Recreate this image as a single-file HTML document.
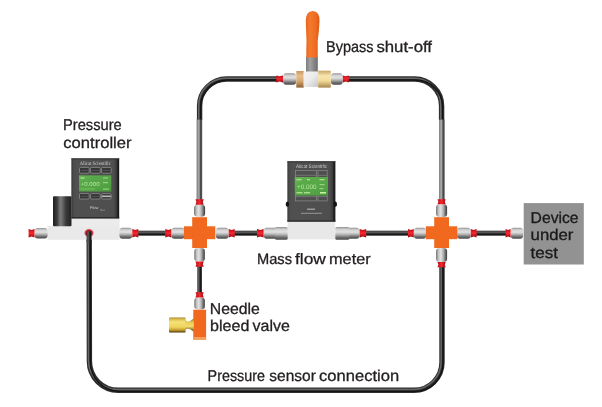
<!DOCTYPE html>
<html><head><meta charset="utf-8"><style>
html,body{margin:0;padding:0;background:#fff;}
svg{display:block;filter:blur(0.3px);}
text{font-family:"Liberation Sans",sans-serif;text-rendering:geometricPrecision;}
</style></head><body>
<svg width="602" height="407" viewBox="0 0 602 407">
<rect width="602" height="407" fill="#fff"/>
<defs>
<linearGradient id="gh" x1="0" y1="0" x2="0" y2="1">
 <stop offset="0" stop-color="#8c8c8c"/><stop offset="0.18" stop-color="#d0d0d0"/><stop offset="0.4" stop-color="#e2e2e2"/><stop offset="0.6" stop-color="#b4b4b4"/><stop offset="0.82" stop-color="#6e6e6e"/><stop offset="1" stop-color="#4a4a4a"/></linearGradient>
<linearGradient id="gv" x1="0" y1="0" x2="1" y2="0">
 <stop offset="0" stop-color="#6a6a6a"/><stop offset="0.2" stop-color="#c0c0c0"/><stop offset="0.42" stop-color="#e2e2e2"/><stop offset="0.65" stop-color="#b4b4b4"/><stop offset="0.85" stop-color="#6a6a6a"/><stop offset="1" stop-color="#3a3a3a"/></linearGradient>
<linearGradient id="rh" x1="0" y1="0" x2="0" y2="1">
 <stop offset="0" stop-color="#a80c14"/><stop offset="0.3" stop-color="#e41a22"/><stop offset="0.5" stop-color="#f42a30"/><stop offset="0.75" stop-color="#d0141c"/><stop offset="1" stop-color="#900810"/></linearGradient>
<linearGradient id="rv" x1="0" y1="0" x2="1" y2="0">
 <stop offset="0" stop-color="#a80c14"/><stop offset="0.3" stop-color="#e41a22"/><stop offset="0.5" stop-color="#f42a30"/><stop offset="0.75" stop-color="#d0141c"/><stop offset="1" stop-color="#900810"/></linearGradient>
<linearGradient id="th" x1="0" y1="0" x2="0" y2="1">
 <stop offset="0" stop-color="#2e2e2e"/><stop offset="0.3" stop-color="#636363"/><stop offset="0.5" stop-color="#3c3c3c"/><stop offset="0.72" stop-color="#141414"/><stop offset="1" stop-color="#2e2e2e"/></linearGradient>
<linearGradient id="tv" x1="0" y1="0" x2="1" y2="0">
 <stop offset="0" stop-color="#2e2e2e"/><stop offset="0.3" stop-color="#636363"/><stop offset="0.5" stop-color="#3c3c3c"/><stop offset="0.72" stop-color="#141414"/><stop offset="1" stop-color="#2e2e2e"/></linearGradient>
<linearGradient id="tg" x1="0" y1="0" x2="1" y2="0">
 <stop offset="0" stop-color="#6e6e6e"/><stop offset="0.25" stop-color="#9c9c9c"/><stop offset="0.45" stop-color="#a6a6a6"/><stop offset="0.72" stop-color="#424242"/><stop offset="1" stop-color="#5e5e5e"/></linearGradient>
<linearGradient id="bodyg" x1="0" y1="0" x2="1" y2="0">
 <stop offset="0" stop-color="#262626"/><stop offset="0.03" stop-color="#4a4a4a"/><stop offset="0.1" stop-color="#505050"/><stop offset="0.88" stop-color="#4e4e4e"/><stop offset="0.94" stop-color="#3c3c3c"/><stop offset="0.97" stop-color="#1c1c1c"/><stop offset="1" stop-color="#1c1c1c"/></linearGradient>
<linearGradient id="handle" x1="0" y1="0" x2="1" y2="0">
 <stop offset="0" stop-color="#e8661e"/><stop offset="0.3" stop-color="#f37a2e"/><stop offset="0.7" stop-color="#f06c22"/><stop offset="1" stop-color="#d85a14"/></linearGradient>
<radialGradient id="port" cx="0.5" cy="0.55" r="0.5">
 <stop offset="0" stop-color="#6a0810"/><stop offset="0.55" stop-color="#b01420"/><stop offset="0.8" stop-color="#d03a44" stop-opacity="0.8"/><stop offset="1" stop-color="#f0a0a0" stop-opacity="0"/></radialGradient>
<linearGradient id="stem" x1="0" y1="0" x2="1" y2="0">
 <stop offset="0" stop-color="#7c7c7c"/><stop offset="0.35" stop-color="#a2a2a2"/><stop offset="0.6" stop-color="#8c8c8c"/><stop offset="1" stop-color="#6e6e6e"/></linearGradient>
<linearGradient id="wbody" x1="0" y1="0" x2="1" y2="1">
 <stop offset="0" stop-color="#f4f4f4"/><stop offset="0.5" stop-color="#ebebeb"/><stop offset="0.75" stop-color="#d8d8d8"/><stop offset="1" stop-color="#c4c4c4"/></linearGradient>
<linearGradient id="sol" x1="0" y1="0" x2="1" y2="0">
 <stop offset="0" stop-color="#1c1c1c"/><stop offset="0.2" stop-color="#383838"/><stop offset="0.4" stop-color="#7a7a7a"/><stop offset="0.5" stop-color="#6a6a6a"/><stop offset="0.7" stop-color="#3a3a3a"/><stop offset="1" stop-color="#222"/></linearGradient>
<linearGradient id="lcd" x1="0" y1="0" x2="1" y2="1">
 <stop offset="0" stop-color="#8fd070" stop-opacity="0.35"/><stop offset="0.5" stop-color="#4f9f42" stop-opacity="0"/><stop offset="1" stop-color="#2f7a2a" stop-opacity="0.4"/></linearGradient>
<linearGradient id="gold" x1="0" y1="0" x2="0" y2="1">
 <stop offset="0" stop-color="#9c7c24"/><stop offset="0.1" stop-color="#d8b848"/><stop offset="0.3" stop-color="#f6e27a"/><stop offset="0.65" stop-color="#eed25a"/><stop offset="0.85" stop-color="#c09a2c"/><stop offset="1" stop-color="#4a3208"/></linearGradient>
<linearGradient id="gold2" x1="0" y1="0" x2="0" y2="1">
 <stop offset="0" stop-color="#8a6a18"/><stop offset="0.3" stop-color="#e8cc58"/><stop offset="0.6" stop-color="#f4dc6c"/><stop offset="1" stop-color="#5a4010"/></linearGradient>
<linearGradient id="brassL" x1="0" y1="0" x2="0" y2="1">
 <stop offset="0" stop-color="#c8985c"/><stop offset="0.3" stop-color="#e6c08c"/><stop offset="0.6" stop-color="#d8a870"/><stop offset="1" stop-color="#8a5e30"/></linearGradient>
<linearGradient id="brassR" x1="0" y1="0" x2="0" y2="1">
 <stop offset="0" stop-color="#c8a466"/><stop offset="0.3" stop-color="#f6e6b0"/><stop offset="0.6" stop-color="#f2dc98"/><stop offset="1" stop-color="#a88450"/></linearGradient>
</defs>
<path d="M199.6 120 L199.6 106 A27 27 0 0 1 226.6 79 L277 79 M348 79 L414.6 79 A27 27 0 0 1 441.6 106 L441.6 120" fill="none" stroke="#2e2e2e" stroke-width="5.4"/>
<path d="M199.6 120 L199.6 106 A27 27 0 0 1 226.6 79 L277 79 M348 79 L414.6 79 A27 27 0 0 1 441.6 106 L441.6 120" fill="none" stroke="#676767" stroke-width="1.5" transform="translate(-0.85,-0.85)"/>
<path d="M199.6 120 L199.6 106 A27 27 0 0 1 226.6 79 L277 79 M348 79 L414.6 79 A27 27 0 0 1 441.6 106 L441.6 120" fill="none" stroke="#141414" stroke-width="1.4" transform="translate(1.05,1.05)"/>
<rect x="196.6" y="119.5" width="5.6" height="80.5" fill="url(#tg)"/>
<rect x="439.1" y="119.5" width="5.6" height="80.5" fill="url(#tg)"/>
<path d="M89.2 236 L89.4 361.3 A29 29 0 0 0 118.4 390.3 L414.0 390.3 A28 28 0 0 0 442.0 362.3 L442.0 266" fill="none" stroke="#2e2e2e" stroke-width="5.4"/>
<path d="M89.2 236 L89.4 361.3 A29 29 0 0 0 118.4 390.3 L414.0 390.3 A28 28 0 0 0 442.0 362.3 L442.0 266" fill="none" stroke="#676767" stroke-width="1.5" transform="translate(-0.85,-0.85)"/>
<path d="M89.2 236 L89.4 361.3 A29 29 0 0 0 118.4 390.3 L414.0 390.3 A28 28 0 0 0 442.0 362.3 L442.0 266" fill="none" stroke="#141414" stroke-width="1.4" transform="translate(1.05,1.05)"/>
<rect x="138" y="230.7" width="28" height="5.0" fill="url(#th)"/>
<rect x="233" y="230.7" width="25" height="5.0" fill="url(#th)"/>
<rect x="365" y="230.7" width="44" height="5.0" fill="url(#th)"/>
<rect x="476" y="230.7" width="30" height="5.0" fill="url(#th)"/>
<rect x="197.29999999999998" y="266" width="4.6" height="28" fill="url(#tv)"/>
<rect x="47.5" y="225.8" width="72" height="14" fill="#e9e9e9"/>
<rect x="71.5" y="216" width="48" height="11" fill="#ebebeb"/>
<rect x="53" y="196.3" width="18.5" height="30" rx="1" fill="url(#sol)"/>
<rect x="71.4" y="158.4" width="47.8" height="60" fill="url(#bodyg)"/>
<rect x="71.4" y="158.4" width="47.8" height="1" fill="#333"/>
<rect x="71.4" y="217.2" width="47.8" height="1.2" fill="#262626"/>
<text x="95.3" y="164.6" font-size="5.4" fill="#d2d2d2" style="font-family:Liberation Serif" text-anchor="middle" textLength="31" lengthAdjust="spacingAndGlyphs">Alicat Scientific</text>
<rect x="79.5" y="167.4" width="9.6" height="5.8" rx="1" fill="#363636" stroke="#9a9a9a" stroke-width="0.7"/>
<rect x="80.7" y="169.9" width="7.2" height="0.8" fill="#5a5a5a"/>
<rect x="79.5" y="193.6" width="9.6" height="5.4" rx="1" fill="#363636" stroke="#9a9a9a" stroke-width="0.7"/>
<rect x="80.7" y="195.89999999999998" width="7.2" height="0.8" fill="#5a5a5a"/>
<rect x="90.6" y="167.4" width="9.6" height="5.8" rx="1" fill="#363636" stroke="#9a9a9a" stroke-width="0.7"/>
<rect x="91.8" y="169.9" width="7.2" height="0.8" fill="#5a5a5a"/>
<rect x="90.6" y="193.6" width="9.6" height="5.4" rx="1" fill="#363636" stroke="#9a9a9a" stroke-width="0.7"/>
<rect x="91.8" y="195.89999999999998" width="7.2" height="0.8" fill="#5a5a5a"/>
<rect x="101.6" y="167.4" width="9.6" height="5.8" rx="1" fill="#363636" stroke="#9a9a9a" stroke-width="0.7"/>
<rect x="102.8" y="169.9" width="7.2" height="0.8" fill="#5a5a5a"/>
<rect x="101.6" y="193.6" width="9.6" height="5.4" rx="1" fill="#363636" stroke="#9a9a9a" stroke-width="0.7"/>
<rect x="102.8" y="195.89999999999998" width="7.2" height="0.8" fill="#5a5a5a"/>
<rect x="101.9" y="195.5" width="9" height="1.6" fill="#bbb"/>
<rect x="79" y="175.4" width="32.3" height="16.1" fill="#56a647"/>
<rect x="79" y="175.4" width="32.3" height="16.1" fill="url(#lcd)"/>
<text x="80.6" y="186" font-size="5.6" fill="#b8e6a0" textLength="19" lengthAdjust="spacingAndGlyphs">+0.000</text>
<rect x="80.5" y="177.3" width="4" height="1.4" fill="#a8dc90"/>
<rect x="103" y="177.3" width="5" height="1.2" fill="#98d080"/>
<rect x="103" y="182" width="5" height="1.2" fill="#98d080"/>
<rect x="103" y="188.5" width="6" height="1.2" fill="#98d080"/>
<rect x="80.5" y="188.5" width="14" height="1" fill="#78c060"/>
<text x="90" y="209" font-size="4" fill="#d0d0d0">Flow</text>
<text x="100" y="211" font-size="3" fill="#aaaaaa">Set</text>
<ellipse cx="89" cy="232.6" rx="5.2" ry="4.6" fill="url(#port)"/>
<rect x="86.6" y="231.2" width="5" height="12" rx="2" fill="url(#tv)"/>
<rect x="287.7" y="219" width="47.5" height="20.4" fill="#e8e8e8"/>
<rect x="287.4" y="161.3" width="48" height="60.3" fill="url(#bodyg)"/>
<rect x="287.4" y="161.3" width="48" height="1" fill="#333"/>
<rect x="287.4" y="220.4" width="48" height="1.2" fill="#262626"/>
<text x="311.5" y="167.6" font-size="5" fill="#cacaca" text-anchor="middle" textLength="31" lengthAdjust="spacingAndGlyphs">Alicat Scientific</text>
<rect x="295.5" y="170.4" width="21.0" height="30.5" fill="none" stroke="#8c8c8c" stroke-width="0.7"/>
<line x1="295.5" y1="175.3" x2="316.5" y2="175.3" stroke="#8c8c8c" stroke-width="0.6"/>
<line x1="295.5" y1="196.6" x2="316.5" y2="196.6" stroke="#8c8c8c" stroke-width="0.6"/>
<rect x="318" y="170.4" width="9.199999999999989" height="30.5" fill="none" stroke="#8c8c8c" stroke-width="0.7"/>
<line x1="318" y1="175.3" x2="327.2" y2="175.3" stroke="#8c8c8c" stroke-width="0.6"/>
<line x1="318" y1="196.6" x2="327.2" y2="196.6" stroke="#8c8c8c" stroke-width="0.6"/>
<rect x="294.8" y="177" width="33.2" height="18.5" fill="#58a848"/>
<rect x="294.8" y="177" width="33.2" height="18.5" fill="url(#lcd)"/>
<text x="297" y="189.2" font-size="6.6" fill="#b6e49c" textLength="19.5" lengthAdjust="spacingAndGlyphs">+0.000</text>
<rect x="296.5" y="179" width="5" height="1.3" fill="#a8dc90"/>
<rect x="307" y="179" width="3" height="1.3" fill="#a8dc90"/>
<rect x="319.5" y="179" width="5" height="1.3" fill="#a8dc90"/>
<rect x="319.5" y="184" width="5" height="1.2" fill="#98d080"/>
<rect x="319.5" y="188" width="4" height="1.2" fill="#98d080"/>
<rect x="296.5" y="192" width="6" height="1.4" fill="#a8dc90"/>
<rect x="304" y="192" width="6" height="1.4" fill="#a8dc90"/>
<rect x="320" y="192" width="6" height="1.6" fill="#c8f0a0"/>
<ellipse cx="287.4" cy="204.2" rx="1.6" ry="2.6" fill="#111"/>
<ellipse cx="335.4" cy="204.2" rx="1.6" ry="2.6" fill="#111"/>
<rect x="307" y="208.5" width="8" height="1.5" fill="#9a9a9a"/>
<rect x="301" y="212.8" width="21" height="0.9" fill="#a0a0a0"/>
<rect x="34.5" y="227.95" width="13.2" height="10.5" rx="3" ry="4" fill="url(#gh)"/>
<path d="M28.6 229.0 L31.55 229.9 L34.5 229.0 L34.5 237.39999999999998 L31.55 236.49999999999997 L28.6 237.39999999999998 Z" fill="url(#rh)"/>
<rect x="119.3" y="227.7" width="13" height="11" rx="3" ry="4" fill="url(#gh)"/>
<path d="M132.3 229.0 L135.3 229.9 L138.3 229.0 L138.3 237.39999999999998 L135.3 236.49999999999997 L132.3 237.39999999999998 Z" fill="url(#rh)"/>
<rect x="171.3" y="227.7" width="13.5" height="11" rx="3" ry="4" fill="url(#gh)"/>
<path d="M165.3 229.0 L168.3 229.9 L171.3 229.0 L171.3 237.39999999999998 L168.3 236.49999999999997 L165.3 237.39999999999998 Z" fill="url(#rh)"/>
<rect x="215.7" y="227.7" width="13" height="11" rx="3" ry="4" fill="url(#gh)"/>
<path d="M228.7 229.0 L231.7 229.9 L234.7 229.0 L234.7 237.39999999999998 L231.7 236.49999999999997 L228.7 237.39999999999998 Z" fill="url(#rh)"/>
<rect x="263.6" y="227.7" width="18" height="11" rx="3" ry="4" fill="url(#gh)"/>
<rect x="275" y="226.89999999999998" width="12.7" height="12.8" rx="1.5" fill="url(#gh)"/>
<path d="M257 229.0 L260.3 229.9 L263.6 229.0 L263.6 237.39999999999998 L260.3 236.49999999999997 L257 237.39999999999998 Z" fill="url(#rh)"/>
<rect x="341" y="227.7" width="18.6" height="11" rx="3" ry="4" fill="url(#gh)"/>
<rect x="335.3" y="226.89999999999998" width="14" height="12.8" rx="1.5" fill="url(#gh)"/>
<path d="M359.6 229.0 L362.90000000000003 229.9 L366.20000000000005 229.0 L366.20000000000005 237.39999999999998 L362.90000000000003 236.49999999999997 L359.6 237.39999999999998 Z" fill="url(#rh)"/>
<rect x="413.8" y="227.7" width="12.5" height="11" rx="3" ry="4" fill="url(#gh)"/>
<path d="M408 229.0 L410.9 229.9 L413.8 229.0 L413.8 237.39999999999998 L410.9 236.49999999999997 L408 237.39999999999998 Z" fill="url(#rh)"/>
<rect x="456.8" y="227.7" width="14" height="11" rx="3" ry="4" fill="url(#gh)"/>
<path d="M470.8 229.0 L473.70000000000005 229.9 L476.6 229.0 L476.6 237.39999999999998 L473.70000000000005 236.49999999999997 L470.8 237.39999999999998 Z" fill="url(#rh)"/>
<rect x="510.6" y="227.7" width="12.6" height="11" rx="3" ry="4" fill="url(#gh)"/>
<path d="M505.6 229.0 L508.1 229.9 L510.6 229.0 L510.6 237.39999999999998 L508.1 236.49999999999997 L505.6 237.39999999999998 Z" fill="url(#rh)"/>
<rect x="194.1" y="204.79999999999998" width="11" height="12" rx="4" ry="3" fill="url(#gv)"/>
<path d="M195.5 199.2 L196.4 202.0 L195.5 204.79999999999998 L203.7 204.79999999999998 L202.79999999999998 202.0 L203.7 199.2 Z" fill="url(#rv)"/>
<rect x="194.35" y="248" width="10.5" height="13.5" rx="4" ry="3" fill="url(#gv)"/>
<path d="M195.5 261.5 L196.4 264.15 L195.5 266.8 L203.7 266.8 L202.79999999999998 264.15 L203.7 261.5 Z" fill="url(#rv)"/>
<rect x="194.35" y="297.5" width="10.5" height="12" rx="4" ry="3" fill="url(#gv)"/>
<path d="M195.5 292.2 L196.4 294.85 L195.5 297.5 L203.7 297.5 L202.79999999999998 294.85 L203.7 292.2 Z" fill="url(#rv)"/>
<rect x="436.1" y="204.2" width="11" height="12.8" rx="4" ry="3" fill="url(#gv)"/>
<path d="M437.5 199.2 L438.4 201.7 L437.5 204.2 L445.70000000000005 204.2 L444.80000000000007 201.7 L445.70000000000005 199.2 Z" fill="url(#rv)"/>
<rect x="436.1" y="248" width="11" height="14" rx="4" ry="3" fill="url(#gv)"/>
<path d="M437.5 262 L438.4 264.65 L437.5 267.3 L445.70000000000005 267.3 L444.80000000000007 264.65 L445.70000000000005 262 Z" fill="url(#rv)"/>
<rect x="183.9" y="226.29999999999998" width="31.4" height="12.9" fill="#f0691f"/>
<rect x="192.2" y="217.2" width="14.8" height="30.8" fill="#f0691f"/>
<rect x="425.90000000000003" y="226.29999999999998" width="31.4" height="12.9" fill="#f0691f"/>
<rect x="434.20000000000005" y="217.2" width="14.8" height="30.8" fill="#f0691f"/>
<rect x="193.3" y="309.7" width="12.8" height="30" fill="#f0691f"/>
<rect x="193.3" y="337" width="12.8" height="3" fill="#f3a060"/>
<rect x="169" y="317.4" width="16.6" height="15.1" rx="0.8" fill="url(#gold)"/>
<path d="M185.2 320.3 C187.5 322.6 190 321.4 193.6 318.4 L193.6 331.6 C190 328.8 187.5 327.6 185.2 329.7 Z" fill="url(#gold2)"/>
<rect x="306" y="56.8" width="11.8" height="15" fill="url(#stem)"/>
<path d="M306.3 57.5 L306.3 50 Q306.9 42 306.1 31 L305.8 21 Q305.9 11 312.6 11 Q319.7 11 319.5 21 Q319.1 31 317.7 41 L317.8 57.5 Z" fill="url(#handle)"/>
<rect x="283.0" y="73.15" width="13.3" height="11.5" rx="3" ry="4" fill="url(#gh)"/>
<path d="M276.3 75.4 L279.65 76.30000000000001 L283.0 75.4 L283.0 82.4 L279.65 81.5 L276.3 82.4 Z" fill="url(#rh)"/>
<rect x="330.8" y="73.15" width="12" height="11.5" rx="3" ry="4" fill="url(#gh)"/>
<path d="M342.8 75.4 L345.8 76.30000000000001 L348.8 75.4 L348.8 82.4 L345.8 81.5 L342.8 82.4 Z" fill="url(#rh)"/>
<rect x="296.3" y="71" width="7.5" height="16.6" fill="url(#brassL)"/>
<rect x="303.6" y="71.6" width="14.8" height="15.3" fill="url(#wbody)"/>
<rect x="318.2" y="70.7" width="12.6" height="16.9" fill="url(#brassR)"/>
<rect x="523.7" y="203.1" width="60.1" height="61.4" fill="#929292"/>
<text x="326" y="52.3" font-size="15.6" fill="#231f20" stroke="#231f20" stroke-width="0.3" textLength="47.5" lengthAdjust="spacingAndGlyphs">Bypass</text>
<text x="376.4" y="52.3" font-size="15.6" fill="#231f20" stroke="#231f20" stroke-width="0.3" textLength="55.60000000000002" lengthAdjust="spacingAndGlyphs">shut-off</text>
<text x="63.0" y="129.7" font-size="15.6" fill="#231f20" stroke="#231f20" stroke-width="0.3" textLength="58.8" lengthAdjust="spacingAndGlyphs">Pressure</text>
<text x="63.3" y="147.8" font-size="15.6" fill="#231f20" stroke="#231f20" stroke-width="0.3" textLength="68.2" lengthAdjust="spacingAndGlyphs">controller</text>
<text x="257" y="264.1" font-size="15.1" fill="#231f20" stroke="#231f20" stroke-width="0.3" textLength="35.0" lengthAdjust="spacingAndGlyphs">Mass</text>
<text x="295" y="264.1" font-size="15.1" fill="#231f20" stroke="#231f20" stroke-width="0.3" textLength="30.80000000000001" lengthAdjust="spacingAndGlyphs">flow</text>
<text x="329" y="264.1" font-size="15.1" fill="#231f20" stroke="#231f20" stroke-width="0.3" textLength="41.69999999999999" lengthAdjust="spacingAndGlyphs">meter</text>
<text x="209.8" y="313.9" font-size="15.6" fill="#231f20" stroke="#231f20" stroke-width="0.3" textLength="50.099999999999966" lengthAdjust="spacingAndGlyphs">Needle</text>
<text x="210.1" y="331.3" font-size="15.6" fill="#231f20" stroke="#231f20" stroke-width="0.3" textLength="39.30000000000001" lengthAdjust="spacingAndGlyphs">bleed</text>
<text x="252.6" y="331.3" font-size="15.6" fill="#231f20" stroke="#231f20" stroke-width="0.3" textLength="37.29999999999998" lengthAdjust="spacingAndGlyphs">valve</text>
<text x="207.6" y="381.3" font-size="15.6" fill="#231f20" stroke="#231f20" stroke-width="0.3" textLength="57.400000000000006" lengthAdjust="spacingAndGlyphs">Pressure</text>
<text x="269.3" y="381.3" font-size="15.6" fill="#231f20" stroke="#231f20" stroke-width="0.3" textLength="46.5" lengthAdjust="spacingAndGlyphs">sensor</text>
<text x="319.1" y="381.3" font-size="15.6" fill="#231f20" stroke="#231f20" stroke-width="0.3" textLength="80.0" lengthAdjust="spacingAndGlyphs">connection</text>
<text x="530.6" y="222.6" font-size="15.6" fill="#1a1a1a" stroke="#1a1a1a" stroke-width="0.3" textLength="48.0" lengthAdjust="spacingAndGlyphs">Device</text>
<text x="530.6" y="239.6" font-size="15.6" fill="#1a1a1a" stroke="#1a1a1a" stroke-width="0.3" textLength="42.799999999999955" lengthAdjust="spacingAndGlyphs">under</text>
<text x="530.6" y="257.7" font-size="15.6" fill="#1a1a1a" stroke="#1a1a1a" stroke-width="0.3" textLength="27.399999999999977" lengthAdjust="spacingAndGlyphs">test</text>
</svg>
</body></html>
